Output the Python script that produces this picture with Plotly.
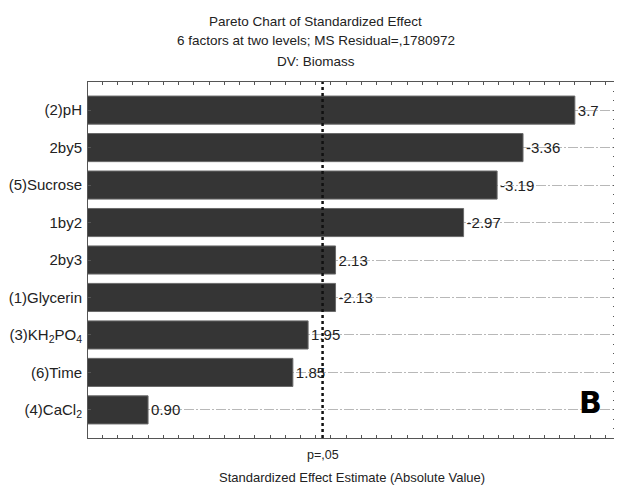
import plotly.graph_objects as go

categories = ["(2)pH", "2by5", "(5)Sucrose", "1by2", "2by3", "(1)Glycerin",
              "(3)KH<sub>2</sub>PO<sub>4</sub>", "(6)Time", "(4)CaCl<sub>2</sub>"]
abs_effects = [3.70, 3.36, 3.19, 2.97, 2.13, 2.13, 1.95, 1.85, 0.90]
effect_labels = ["3.7", "-3.36", "-3.19", "-2.97", "2.13", "-2.13", "1.95", "1.85", "0.90"]
p_crit = 2.045

title_lines = ["Pareto Chart of Standardized Effect",
               "6 factors at two levels; MS Residual=,1780972",
               "DV: Biomass"]
x_title = "Standardized Effect Estimate (Absolute Value)"
p_label = "p=,05"
panel_letter = "B"

FONT = "Liberation Sans, Arial, sans-serif"
TXT = "#222"

fig = go.Figure()
fig.add_trace(go.Bar(
    x=abs_effects, y=categories, orientation="h",
    marker=dict(color="#353535", line=dict(color="#6a6a6a", width=1)),
    width=0.75,
    text=effect_labels, textposition="outside", cliponaxis=False,
    textfont=dict(family=FONT, size=15, color=TXT),
    showlegend=False,
))
# invisible helper trace for the right-hand tick axis
fig.add_trace(go.Scatter(x=[1], y=[0], yaxis="y2", mode="markers",
                         marker=dict(opacity=0), showlegend=False, hoverinfo="skip"))

fig.add_shape(type="line", xref="x", yref="paper", x0=p_crit, x1=p_crit, y0=0, y1=1,
              line=dict(color="#111", width=2.5, dash="dot"))

fig.update_layout(
    width=614, height=478,
    margin=dict(l=80, r=6, t=74, b=48, autoexpand=False),
    paper_bgcolor="white", plot_bgcolor="white",
    font=dict(family=FONT, size=12, color=TXT),
    xaxis=dict(range=[0.506, 3.97], showticklabels=False, showgrid=False, zeroline=False,
               ticks="inside", dtick=0.1, tick0=0, ticklen=3, tickcolor="#555",
               showline=True, linecolor="#555", linewidth=1, mirror="ticks",
               automargin=False),
    yaxis=dict(autorange=False, range=[8.75, -0.75], type="category",
               showgrid=True, gridcolor="#b8b8b8", griddash="10px,2px,2px,2px", gridwidth=1,
               ticks="inside", ticklen=3, tickcolor="#555",
               showline=True, linecolor="#555", linewidth=1, mirror=True,
               ticklabelstandoff=2, automargin=False,
               tickfont=dict(family=FONT, size=15, color=TXT)),
    yaxis2=dict(overlaying="y", side="right", range=[8.75, -0.75], showticklabels=False,
                showgrid=False, zeroline=False, ticks="inside", dtick=0.25, tick0=0,
                ticklen=3, tickcolor="#555", showline=False, automargin=False),
)

title_shifts = [61, 41.5, 21]
for line, ys in zip(title_lines, title_shifts):
    fig.add_annotation(text=line, xref="paper", yref="paper", x=0.431, y=1,
                       xanchor="center", yanchor="middle", yshift=ys,
                       showarrow=False, font=dict(family=FONT, size=13.5, color=TXT))

fig.add_annotation(text=p_label, xref="x", yref="paper", x=p_crit, y=0, yshift=-17,
                   xanchor="center", yanchor="middle", showarrow=False,
                   font=dict(family=FONT, size=12.5, color=TXT))
fig.add_annotation(text=x_title, xref="paper", yref="paper", x=0.5, y=0, yshift=-39,
                   xanchor="center", yanchor="middle", showarrow=False,
                   font=dict(family=FONT, size=13, color=TXT))
fig.add_annotation(text="<b>" + panel_letter + "</b>", xref="paper", yref="paper",
                   x=0.951, y=0.101, xanchor="center", yanchor="middle", showarrow=False,
                   font=dict(family="DejaVu Sans, sans-serif", size=30, color="#000"))

fig.write_html("out.html")
